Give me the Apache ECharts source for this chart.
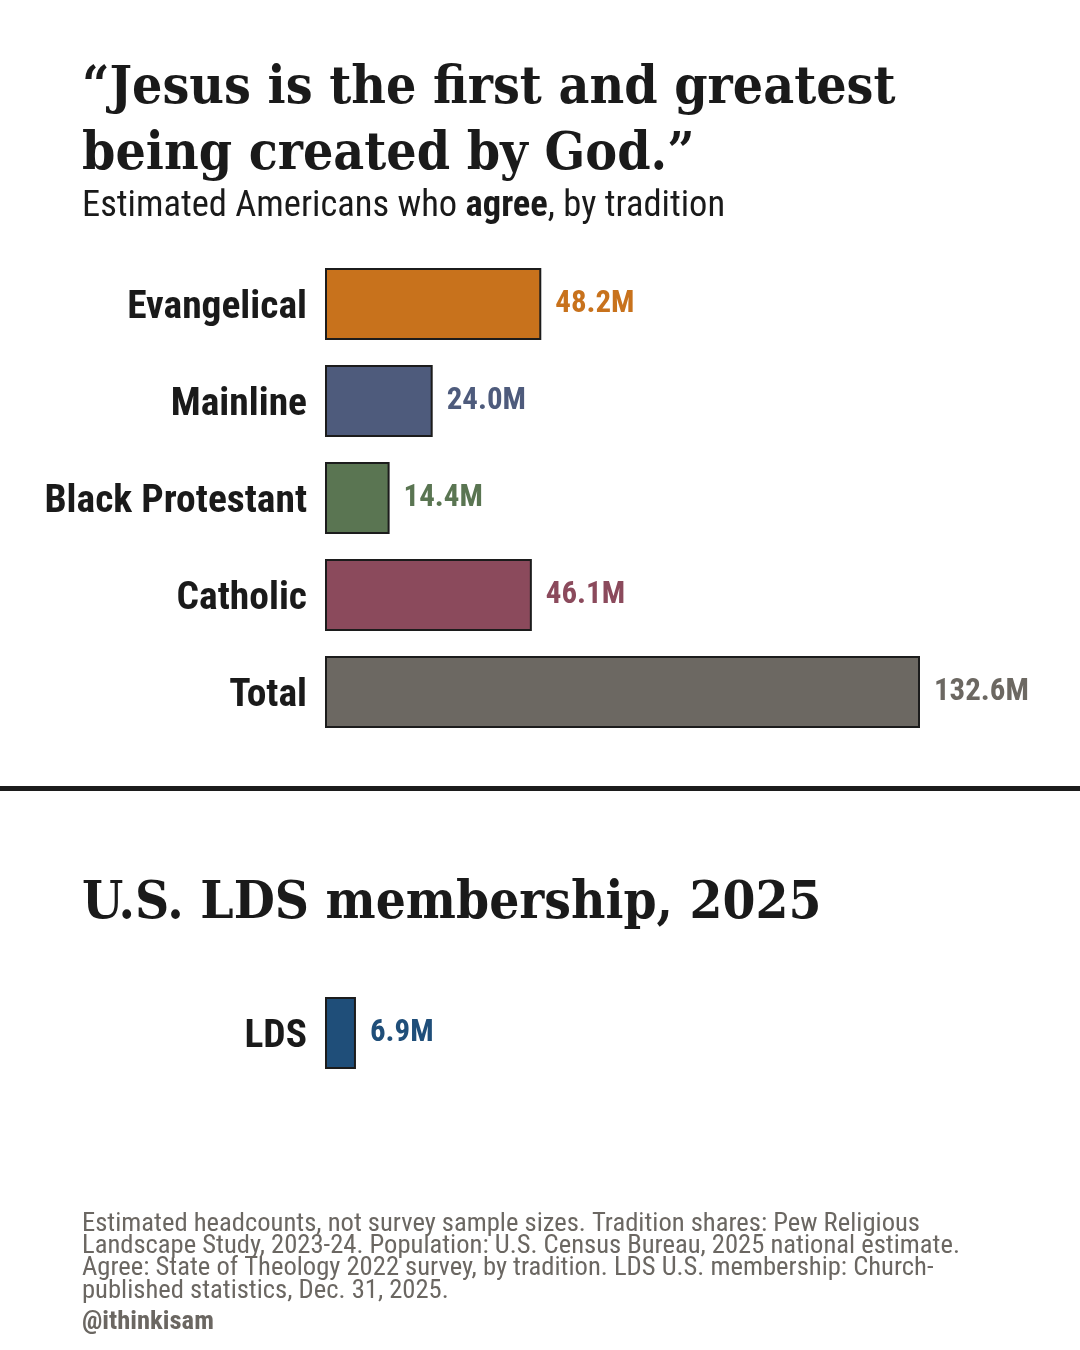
<!DOCTYPE html>
<html>
<head>
    <meta charset="utf-8">
    <script src="https://cdn.jsdelivr.net/npm/echarts@6/dist/echarts.min.js"></script>
    <style>
        html, body { margin: 0; padding: 0; background: #fff; }
    </style>
</head>
<body>
<div id="main" style="width:1080px;height:1350px;"></div>

<script>
    // data
    var categories = ['Evangelical', 'Mainline', 'Black Protestant', 'Catholic', 'Total'];
    var agreeMillions = [48.2, 24.0, 14.4, 46.1, 132.6];
    var ldsCategories = ['LDS'];
    var ldsMillions = [6.9];

    var barColors = ['#c8721c', '#4e5b7c', '#5a7552', '#8b4a5c', '#6c6862'];
    var ldsColor = '#1f4e79';

    // which fonts do we really have
    var ctx = document.createElement('canvas').getContext('2d');
    function hasFont(name) {
        var t = 'abcdefghijklmnopqrstuvwxyzABCDEFGHIJ0123456789';
        var gens = ['monospace', 'serif', 'sans-serif'];
        for (var i = 0; i < gens.length; i++) {
            ctx.font = '40px ' + gens[i];
            var a = ctx.measureText(t).width;
            ctx.font = '40px "' + name + '", ' + gens[i];
            var b = ctx.measureText(t).width;
            if (a !== b) return true;
        }
        return false;
    }
    function pick(list) {
        for (var i = 0; i < list.length; i++) {
            if (hasFont(list[i])) return '"' + list[i] + '"';
        }
        return 'sans-serif';
    }
    var SLAB = pick(['Roboto Slab', 'DejaVu Serif Condensed', 'DejaVu Serif', 'Liberation Serif']);
    var COND = pick(['Roboto Condensed', 'Liberation Sans Narrow', 'DejaVu Sans Condensed', 'Roboto']);

    // font size that gives the text the width it has in the picture
    function fit(text, weight, family, target, cap) {
        ctx.font = weight + ' 100px ' + family;
        var w = ctx.measureText(text).width;
        return Math.min(cap, Math.floor(100 * target / w * 10) / 10);
    }

    var titleSize = fit('\u201cJesus is the first and greatest', 'bold', SLAB, 815, 60);
    var ldsTitleSize = fit('U.S. LDS membership, 2025', 'bold', SLAB, 740, 60);
    var subSize = fit('Estimated Americans who agree, by tradition', 'normal', COND, 642, 40);
    var catSize = fit('Black Protestant', 'bold', COND, 263, 44);
    var valSize = fit('132.6M', 'bold', COND, 95, 34);
    var noteSize = fit('Landscape Study, 2023-24. Population: U.S. Census Bureau, 2025 national estimate.', 'normal', COND, 881, 29);
    var handleSize = fit('@ithinkisam', 'bold', COND, 132, 29);

    var mainData = agreeMillions.map(function (v, i) {
        return {
            value: v,
            itemStyle: {color: barColors[i]},
            label: {color: barColors[i]}
        };
    });
    var ldsData = ldsMillions.map(function (v) {
        return {value: v, itemStyle: {color: ldsColor}, label: {color: ldsColor}};
    });

    function valueLabel(p) {
        return p.value.toFixed(1) + 'M';
    }

    var xMax = 132.6; // Total bar spans the grid width
    var axisCommon = {
        type: 'value', min: 0, max: xMax, show: false,
        splitLine: {show: false}
    };
    var yCommon = {
        type: 'category', inverse: true,
        axisLine: {show: false}, axisTick: {show: false},
        axisLabel: {
            margin: 18,
            formatter: '{a|{value}}',
            rich: {
                a: {
                    color: '#1a1a1a', fontSize: catSize, fontWeight: 'bold',
                    fontFamily: COND, padding: [9, 0, 0, 0]
                }
            }
        }
    };
    var barStyle = {borderColor: '#1c1c1c', borderWidth: 2};
    var labelCommon = {
        show: true, position: 'right', distance: 14,
        fontSize: valSize, fontWeight: 'bold', fontFamily: COND,
        formatter: valueLabel
    };

    var noteLines = [
        'Estimated headcounts, not survey sample sizes. Tradition shares: Pew Religious',
        'Landscape Study, 2023-24. Population: U.S. Census Bureau, 2025 national estimate.',
        'Agree: State of Theology 2022 survey, by tradition. LDS U.S. membership: Church-',
        'published statistics, Dec. 31, 2025.'
    ];

    var graphics = [
        {type: 'text', x: 82, y: 89, style: {text: '\u201cJesus is the first and greatest', fill: '#1a1a1a',
            font: 'bold ' + titleSize + 'px ' + SLAB, verticalAlign: 'middle'}},
        {type: 'text', x: 82, y: 155, style: {text: 'being created by God.\u201d', fill: '#1a1a1a',
            font: 'bold ' + titleSize + 'px ' + SLAB, verticalAlign: 'middle'}},
        {type: 'text', x: 82, y: 207, style: {
            text: 'Estimated Americans who {b|agree}, by tradition', fill: '#1a1a1a',
            fontSize: subSize, fontFamily: COND, verticalAlign: 'middle',
            rich: {b: {fontSize: subSize, fontFamily: COND, fontWeight: 'bold', fill: '#1a1a1a'}}
        }},
        {type: 'rect', shape: {x: 0, y: 786, width: 1080, height: 5}, style: {fill: '#1c1c1c'}},
        {type: 'text', x: 82, y: 904, style: {text: 'U.S. LDS membership, 2025', fill: '#1a1a1a',
            font: 'bold ' + ldsTitleSize + 'px ' + SLAB, verticalAlign: 'middle'}},
        {type: 'text', x: 82, y: 1322, style: {text: '@ithinkisam', fill: '#6b6762',
            font: 'bold ' + handleSize + 'px ' + COND, verticalAlign: 'middle'}}
    ];
    noteLines.forEach(function (t, i) {
        graphics.push({type: 'text', x: 82, y: 1224 + i * 22.4, style: {
            text: t, fill: '#6b6762', font: noteSize + 'px ' + COND, verticalAlign: 'middle'
        }});
    });

    var myChart = echarts.init(document.getElementById('main'), null, {renderer: 'canvas'});
    var option = {
        backgroundColor: '#ffffff',
        animation: false,
        grid: [
            {left: 325, width: 595, top: 255.5, height: 485},
            {left: 325, width: 595, top: 984.5, height: 97}
        ],
        xAxis: [
            Object.assign({gridIndex: 0}, axisCommon),
            Object.assign({gridIndex: 1}, axisCommon)
        ],
        yAxis: [
            Object.assign({gridIndex: 0, data: categories}, yCommon),
            Object.assign({gridIndex: 1, data: ldsCategories}, yCommon)
        ],
        series: [
            {
                type: 'bar', xAxisIndex: 0, yAxisIndex: 0,
                barWidth: 72, data: mainData,
                itemStyle: barStyle, label: labelCommon
            },
            {
                type: 'bar', xAxisIndex: 1, yAxisIndex: 1,
                barWidth: 72, data: ldsData,
                itemStyle: barStyle, label: labelCommon
            }
        ],
        graphic: graphics
    };
    myChart.setOption(option);
</script>
</body>
</html>
